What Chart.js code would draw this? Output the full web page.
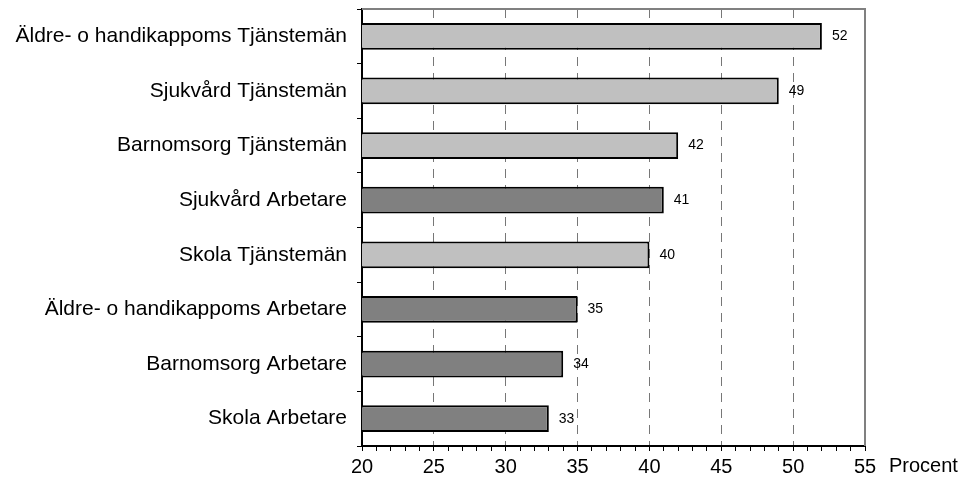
<!DOCTYPE html>
<html>
<head>
<meta charset="utf-8">
<script src="https://cdn.jsdelivr.net/npm/chart.js@4/dist/chart.umd.min.js"></script>
<style>
  html, body { margin: 0; padding: 0; background: #fff; }
  #wrap { width: 965px; height: 486px; position: relative; }
</style>
</head>
<body>
<div id="wrap"><canvas id="chart"></canvas></div>
<script>
const CATEGORIES = [
  "Äldre- o handikappoms Tjänstemän",
  "Sjukvård Tjänstemän",
  "Barnomsorg Tjänstemän",
  "Sjukvård Arbetare",
  "Skola Tjänstemän",
  "Äldre- o handikappoms Arbetare",
  "Barnomsorg Arbetare",
  "Skola Arbetare",
];
const VALUES = [52, 49, 42, 41, 40, 35, 34, 33];
const X_MIN = 20;
const X_MAX = 55;
const X_UNIT = "Procent";

const FONT = "'Liberation Sans', Arial, sans-serif";
const LIGHT = "#c0c0c0";
const DARK = "#808080";

const barColors = CATEGORIES.map(c => c.endsWith("Arbetare") ? DARK : LIGHT);

// value labels next to bars, top/right frame and the unit label
const decorations = {
  id: "decorations",
  afterDatasetsDraw(chart) {
    const { ctx, chartArea } = chart;
    ctx.save();
    ctx.strokeStyle = "#808080";
    ctx.lineWidth = 2;
    ctx.beginPath();
    ctx.moveTo(chartArea.left, chartArea.top);
    ctx.lineTo(chartArea.right, chartArea.top);
    ctx.lineTo(chartArea.right, chartArea.bottom);
    ctx.stroke();

    ctx.fillStyle = "#000";
    ctx.font = `14px ${FONT}`;
    ctx.textBaseline = "middle";
    ctx.textAlign = "left";
    chart.getDatasetMeta(0).data.forEach((bar, i) => {
      ctx.fillText(String(VALUES[i]), bar.x + 10, bar.y);
    });

    ctx.font = `20px ${FONT}`;
    ctx.fillText(X_UNIT, chartArea.right + 24, chartArea.bottom + 20);
    ctx.restore();
  }
};

new Chart(document.getElementById("chart"), {
  type: "bar",
  data: {
    labels: CATEGORIES,
    datasets: [{
      data: VALUES,
      backgroundColor: barColors,
      borderColor: "#000",
      borderWidth: 2,
      borderSkipped: false,
      barPercentage: 0.49,
      categoryPercentage: 1,
    }]
  },
  options: {
    indexAxis: "y",
    responsive: true,
    maintainAspectRatio: false,
    animation: false,
    layout: { padding: { top: 9, right: 100, left: 0, bottom: 0 } },
    plugins: {
      legend: { display: false },
      tooltip: { enabled: false },
    },
    scales: {
      x: {
        min: X_MIN,
        max: X_MAX,
        border: { color: "#000", width: 2, dash: [9, 7] },
        grid: {
          drawOnChartArea: true,
          color: (c) => {
            const v = c.tick && c.tick.value;
            return (v % 5 === 0 && v !== X_MIN && v !== X_MAX) ? "#777" : "rgba(0,0,0,0)";
          },
          tickColor: "#000",
          tickLength: 5,
          tickWidth: 1,
          lineWidth: 1,
        },
        ticks: {
          stepSize: 1,
          autoSkip: false,
          maxRotation: 0,
          padding: 4,
          color: "#000",
          font: { family: FONT, size: 20 },
          callback: (v) => (v % 5 === 0 ? v : ""),
        },
        afterFit(scale) { scale.height = 40; },
      },
      y: {
        border: { color: "#000", width: 2 },
        grid: {
          drawOnChartArea: false,
          tickColor: "#000",
          tickLength: 5,
          offset: true,
        },
        ticks: {
          padding: 10,
          color: "#000",
          font: { family: FONT, size: 21 },
        },
        afterFit(scale) {
          scale.width = 362;
          scale.paddingTop = 0;
          scale.paddingBottom = 0;
        },
      }
    }
  },
  plugins: [decorations]
});
</script>
</body>
</html>
